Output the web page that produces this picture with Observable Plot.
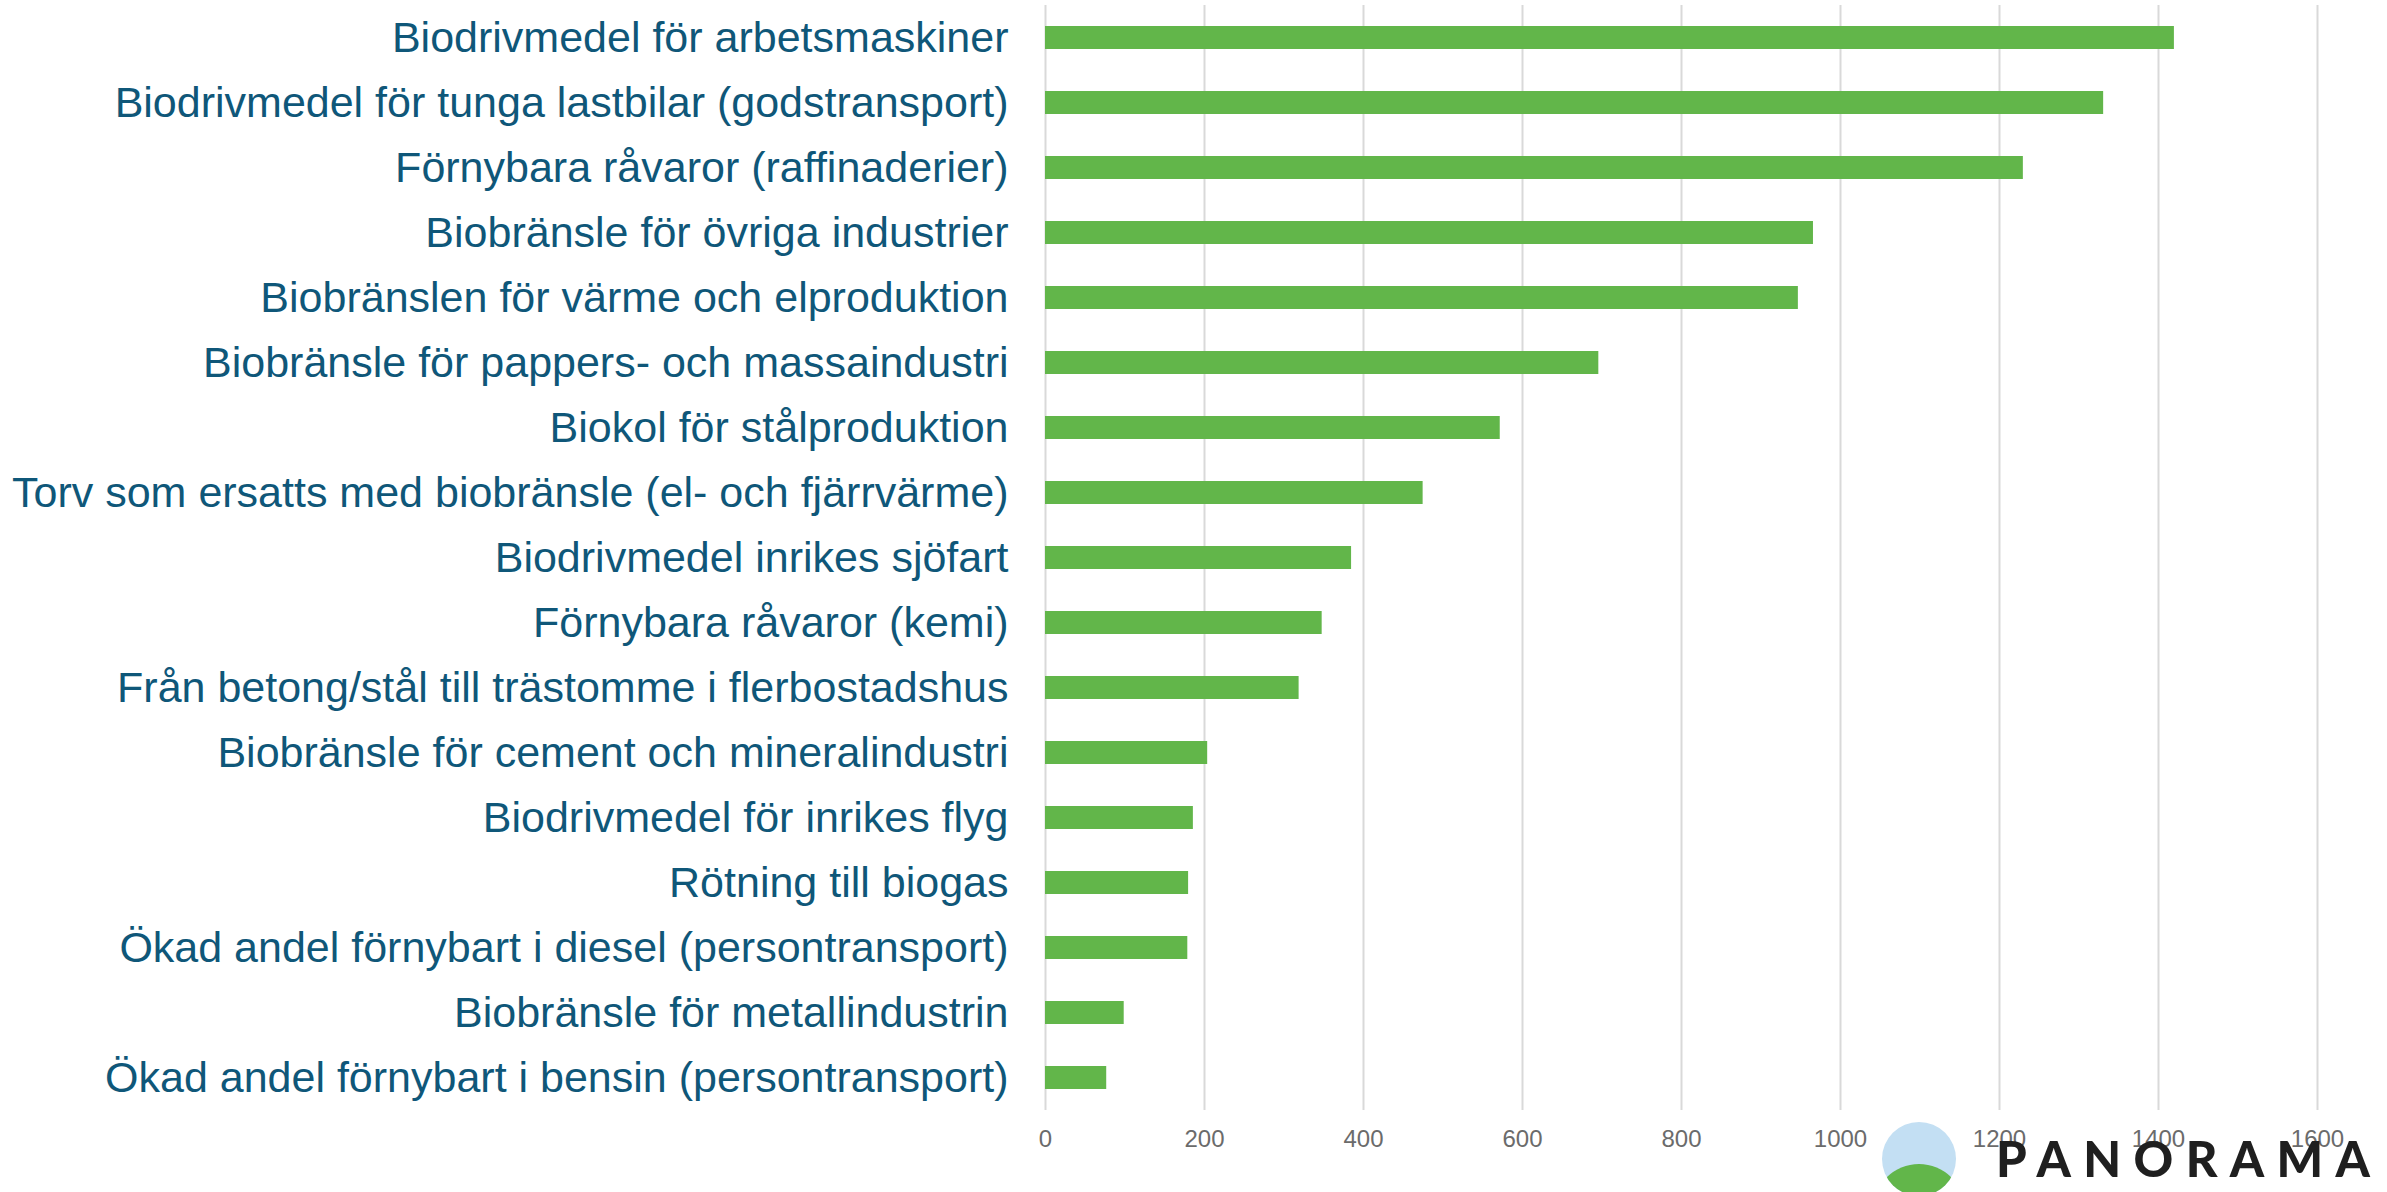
<!DOCTYPE html>
<html>
<head>
<meta charset="utf-8">
<script src="https://cdn.jsdelivr.net/npm/d3@7"></script>
<script src="https://cdn.jsdelivr.net/npm/@observablehq/plot@0.6"></script>
<style>
  html, body { margin: 0; padding: 0; background: #fff; overflow: hidden; }
  #wrap { position: relative; width: 2387px; height: 1192px; }
  #logo { position: absolute; left: 0; top: 0; pointer-events: none; }
</style>
</head>
<body>
<div id="wrap"></div>
<script>
const categories = [
  "Biodrivmedel för arbetsmaskiner",
  "Biodrivmedel för tunga lastbilar (godstransport)",
  "Förnybara råvaror (raffinaderier)",
  "Biobränsle för övriga industrier",
  "Biobränslen för värme och elproduktion",
  "Biobränsle för pappers- och massaindustri",
  "Biokol för stålproduktion",
  "Torv som ersatts med biobränsle (el- och fjärrvärme)",
  "Biodrivmedel inrikes sjöfart",
  "Förnybara råvaror (kemi)",
  "Från betong/stål till trästomme i flerbostadshus",
  "Biobränsle för cement och mineralindustri",
  "Biodrivmedel för inrikes flyg",
  "Rötning till biogas",
  "Ökad andel förnybart i diesel (persontransport)",
  "Biobränsle för metallindustrin",
  "Ökad andel förnybart i bensin (persontransport)"
];
const values = [1420, 1331, 1230, 966, 947, 696, 572, 475, 385, 348, 319, 204, 186, 180, 179, 99, 77];
const xTicks = [0, 200, 400, 600, 800, 1000, 1200, 1400, 1600];
const brandText = "PANORAMA";

const data = categories.map((c, i) => ({category: c, value: values[i]}));

const chart = Plot.plot({
  width: 2387,
  height: 1192,
  marginLeft: 1045,
  marginRight: 70,
  marginTop: 5,
  marginBottom: 82,
  style: {fontFamily: "'Liberation Sans', Arial, sans-serif", background: "#fff"},
  x: {domain: [0, 1600]},
  y: {domain: categories, paddingInner: 0.646, paddingOuter: 0.323},
  marks: [
    Plot.ruleX(xTicks, {stroke: "#d9d9d9", strokeWidth: 2}),
    Plot.barX(data, {y: "category", x: "value", fill: "#62b64a"}),
    Plot.axisX({ticks: xTicks, tickSize: 0, tickPadding: 19, fontSize: 24, color: "#6b6b6b", label: null, tickFormat: d => String(d)}),
    Plot.axisY({tickSize: 0, tickPadding: 37, fontSize: 43, color: "#0f5779", label: null})
  ]
});
document.getElementById("wrap").appendChild(chart);

// Brand logo overlay
const ns = "http://www.w3.org/2000/svg";
const logo = document.createElementNS(ns, "svg");
logo.setAttribute("id", "logo");
logo.setAttribute("width", 2387);
logo.setAttribute("height", 1192);
logo.innerHTML = `
  <defs><clipPath id="lc"><circle cx="1919" cy="1159" r="37"/></clipPath></defs>
  <circle cx="1919" cy="1159" r="37" fill="#c3dff3"/>
  <circle cx="1919" cy="1210" r="46" fill="#62b64a" clip-path="url(#lc)"/>
  <text x="1996" y="1177" font-family="Lato, 'DejaVu Sans', sans-serif" font-weight="900" font-size="49" fill="#1f1f1f" textLength="374" lengthAdjust="spacing">${brandText}</text>
`;
document.getElementById("wrap").appendChild(logo);
</script>
</body>
</html>
